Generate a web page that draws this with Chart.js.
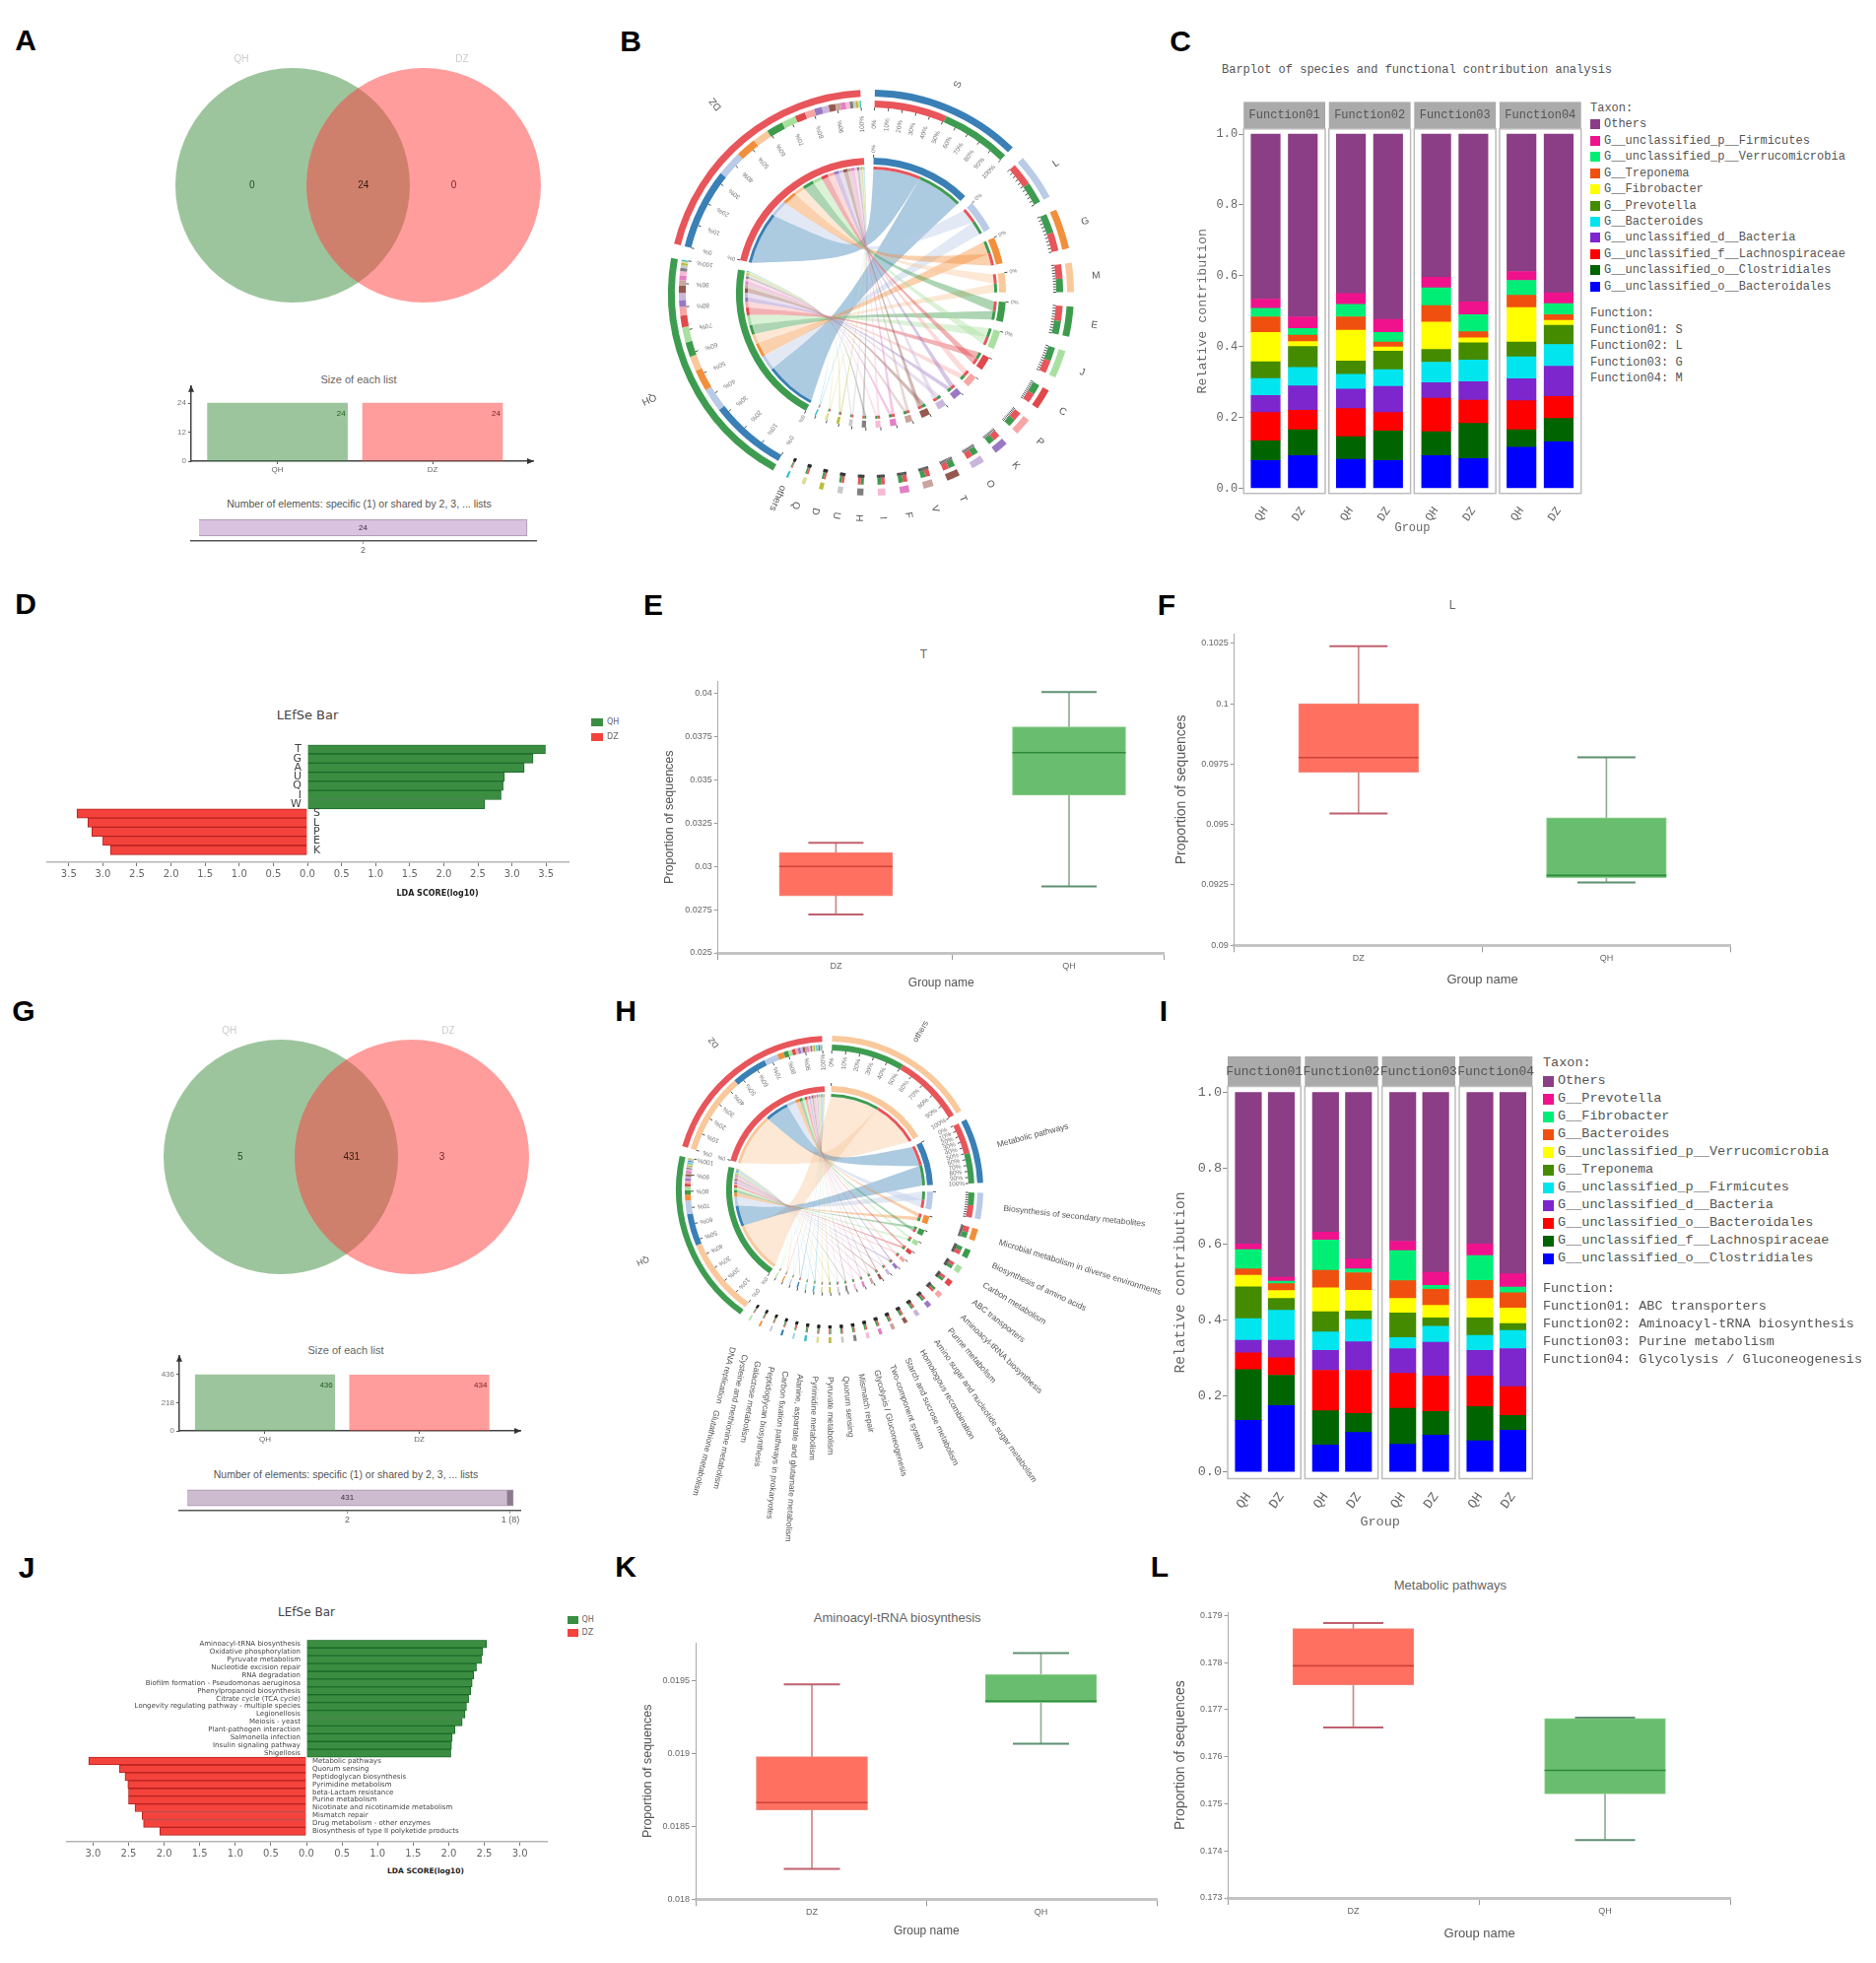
<!DOCTYPE html>
<html>
<head>
<meta charset="utf-8">
<script src="https://cdn.jsdelivr.net/npm/chart.js@4"></script>
<style>
html, body { margin: 0; background: #fff; }
body { position: relative; width: 1904px; height: 1992px; overflow: hidden; }
canvas { position: absolute; }
.t { position: absolute; white-space: nowrap; line-height: 1; }
.swatch { position: absolute; }
</style>
</head>
<body>
<script>
// ---- venn + list sizes
const groupNames = ['QH', 'DZ'];
const vennCountsA = [0, 24, 0];
const vennCountsG = [5, 431, 3];
const listSizesA = [24, 24];
const listSizesG = [436, 434];
const sizeTicksA = [0, 12, 24];
const sizeTicksG = [0, 218, 436];
const sharedA = [24];
const sharedLabelsA = ['2'];
const sharedG = [431, 8];
const sharedLabelsG = ['2', '1 (8)'];

// ---- chord B
const chordNamesB = ['S', 'L', 'G', 'M', 'E', 'J', 'C', 'P', 'K', 'O', 'T', 'V', 'F', 'I', 'H', 'U', 'D', 'Q', 'others'];
const chordSpansB = [43.2, 13.3, 11.5, 8.4, 8.6, 8, 6, 5, 4, 3.8, 3.8, 2.9, 2.7, 2.2, 1.8, 1.5, 1.2, 1, 0.6];
const chordQhShareB = [0.49, 0.48, 0.51, 0.48, 0.47, 0.52, 0.53, 0.47, 0.47, 0.51, 0.52, 0.5, 0.49, 0.5, 0.51, 0.5, 0.5, 0.5, 0.5];
const hostSpansB = [71, 73];

// ---- chord H
const chordNamesH = ['others', 'Metabolic pathways', 'Biosynthesis of secondary metabolites', 'Microbial metabolism in diverse environments',
  'Biosynthesis of amino acids', 'Carbon metabolism', 'ABC transporters', 'Aminoacyl-tRNA biosynthesis', 'Purine metabolism',
  'Amino sugar and nucleotide sugar metabolism', 'Homologous recombination', 'Starch and sucrose metabolism', 'Two-component system',
  'Glycolysis / Gluconeogenesis', 'Mismatch repair', 'Quorum sensing', 'Pyruvate metabolism', 'Pyrimidine metabolism',
  'Alanine, aspartate and glutamate metabolism', 'Carbon fixation pathways in prokaryotes', 'Peptidoglycan biosynthesis',
  'Galactose metabolism', 'Cysteine and methionine metabolism', 'DNA replication   Glutathione metabolism'];
const chordSpansH = [58.2, 24.7, 10, 4.6, 3.3, 2.7, 2.3, 2, 1.8, 1.6, 1.5, 1.4, 1.3, 1.2, 1.1, 1, 1, 0.9, 0.9, 0.8, 0.8, 0.7, 0.7, 0.6];
const chordQhShareH = [0.51, 0.49, 0.51, 0.5, 0.51, 0.5, 0.49, 0.52, 0.49, 0.5, 0.5, 0.5, 0.5, 0.5, 0.49, 0.49, 0.51, 0.49, 0.5, 0.5, 0.49, 0.5, 0.5, 0.5];
const hostSpansH = [67, 70.8];

const chordPaletteB = ['#3a80b6', '#b9cbe6', '#f28f3b', '#f9c89b', '#3c9c4b', '#a9e0a0', '#e0484c', '#f7a6a6', '#9a78c4', '#c9b6da',
  '#96594f', '#c9a59d', '#e37fc6', '#f7bad6', '#808080', '#c9c9c9', '#bcbd3a', '#dcdc96', '#36bccd'];
const chordPaletteH = ['#f9c89b', '#3a80b6', '#b9cbe6', '#f28f3b', '#3c9c4b', '#a9e0a0', '#e0484c', '#f7a6a6', '#9a78c4', '#c9b6da',
  '#96594f', '#c9a59d', '#e37fc6', '#f7bad6', '#808080', '#c9c9c9', '#bcbd3a', '#dcdc96', '#36bccd', '#9edae5', '#3a80b6', '#b9cbe6', '#f28f3b', '#a9e0a0'];

// ---- stacked bars C
const taxaC = ['Others', 'G__unclassified_p__Firmicutes', 'G__unclassified_p__Verrucomicrobia', 'G__Treponema', 'G__Fibrobacter', 'G__Prevotella',
  'G__Bacteroides', 'G__unclassified_d__Bacteria', 'G__unclassified_f__Lachnospiraceae', 'G__unclassified_o__Clostridiales', 'G__unclassified_o__Bacteroidales'];
const othersC = [0.466, 0.516, 0.45, 0.523, 0.404, 0.474, 0.388, 0.448];
const firmicutesC = [0.026, 0.033, 0.031, 0.037, 0.03, 0.036, 0.025, 0.031];
const verrucoC = [0.024, 0.019, 0.035, 0.027, 0.05, 0.048, 0.042, 0.031];
const treponemaC = [0.044, 0.018, 0.038, 0.014, 0.047, 0.017, 0.035, 0.016];
const fibrobacterC = [0.083, 0.014, 0.087, 0.012, 0.077, 0.014, 0.097, 0.014];
const prevotellaC = [0.047, 0.059, 0.037, 0.052, 0.036, 0.049, 0.042, 0.054];
const bacteroidesC = [0.048, 0.052, 0.042, 0.047, 0.058, 0.061, 0.062, 0.061];
const dBacteriaC = [0.048, 0.069, 0.055, 0.074, 0.044, 0.052, 0.062, 0.086];
const lachnoC = [0.08, 0.055, 0.079, 0.052, 0.094, 0.066, 0.082, 0.062];
const clostridialesC = [0.056, 0.073, 0.064, 0.084, 0.068, 0.099, 0.049, 0.066];
const bacteroidalesC = [0.078, 0.092, 0.082, 0.078, 0.092, 0.084, 0.116, 0.131];
const functionsC = ['Function01: S', 'Function02: L', 'Function03: G', 'Function04: M'];

// ---- stacked bars I
const taxaI = ['Others', 'G__Prevotella', 'G__Fibrobacter', 'G__Bacteroides', 'G__unclassified_p__Verrucomicrobia', 'G__Treponema',
  'G__unclassified_p__Firmicutes', 'G__unclassified_d__Bacteria', 'G__unclassified_o__Bacteroidales', 'G__unclassified_f__Lachnospiraceae', 'G__unclassified_o__Clostridiales'];
const othersI = [0.399, 0.487, 0.368, 0.439, 0.392, 0.474, 0.399, 0.478];
const prevotellaI = [0.015, 0.01, 0.021, 0.026, 0.025, 0.034, 0.031, 0.035];
const fibrobacterI = [0.051, 0.007, 0.08, 0.01, 0.079, 0.011, 0.065, 0.015];
const bacteroidesI = [0.017, 0.018, 0.046, 0.046, 0.047, 0.042, 0.048, 0.04];
const verrucoI = [0.03, 0.021, 0.063, 0.055, 0.038, 0.033, 0.051, 0.041];
const treponemaI = [0.084, 0.031, 0.053, 0.022, 0.065, 0.022, 0.046, 0.018];
const firmicutesI = [0.057, 0.079, 0.049, 0.059, 0.029, 0.042, 0.04, 0.048];
const dBacteriaI = [0.033, 0.046, 0.052, 0.075, 0.065, 0.089, 0.067, 0.1];
const bacteroidalesI = [0.044, 0.046, 0.107, 0.114, 0.092, 0.094, 0.081, 0.076];
const lachnoI = [0.134, 0.08, 0.09, 0.05, 0.095, 0.062, 0.09, 0.039];
const clostridialesI = [0.136, 0.175, 0.071, 0.104, 0.073, 0.097, 0.082, 0.11];
const functionsI = ['Function01: ABC transporters', 'Function02: Aminoacyl-tRNA biosynthesis', 'Function03: Purine metabolism', 'Function04: Glycolysis / Gluconeogenesis'];

const taxonColors = ['#8b3e85', '#f0128c', '#00ee76', '#f0500f', '#ffff00', '#458b00', '#00e5ee', '#7d26cd', '#ff0000', '#006400', '#0000ff'];
const facetNames = ['Function01', 'Function02', 'Function03', 'Function04'];
const contributionTicks = [0, 0.2, 0.4, 0.6, 0.8, 1];

// ---- LEfSe D
const lefseQhNamesD = ['T', 'G', 'A', 'U', 'Q', 'I', 'W'];
const lefseQhD = [3.49, 3.31, 3.18, 2.89, 2.87, 2.84, 2.6];
const lefseDzNamesD = ['S', 'L', 'P', 'E', 'K'];
const lefseDzD = [3.38, 3.22, 3.16, 3.0, 2.89];
const lefseTicksD = [-3.5, -3, -2.5, -2, -1.5, -1, -0.5, 0, 0.5, 1, 1.5, 2, 2.5, 3, 3.5];

// ---- LEfSe J
const lefseQhNamesJ = ['Aminoacyl-tRNA biosynthesis', 'Oxidative phosphorylation', 'Pyruvate metabolism', 'Nucleotide excision repair', 'RNA degradation',
  'Biofilm formation - Pseudomonas aeruginosa', 'Phenylpropanoid biosynthesis', 'Citrate cycle (TCA cycle)', 'Longevity regulating pathway - multiple species',
  'Legionellosis', 'Meiosis - yeast', 'Plant-pathogen interaction', 'Salmonella infection', 'Insulin signaling pathway', 'Shigellosis'];
const lefseQhJ = [2.53, 2.48, 2.46, 2.39, 2.35, 2.33, 2.31, 2.28, 2.25, 2.23, 2.19, 2.09, 2.05, 2.04, 2.03];
const lefseDzNamesJ = ['Metabolic pathways', 'Quorum sensing', 'Peptidoglycan biosynthesis', 'Pyrimidine metabolism', 'beta-Lactam resistance', 'Purine metabolism',
  'Nicotinate and nicotinamide metabolism', 'Mismatch repair', 'Drug metabolism - other enzymes', 'Biosynthesis of type II polyketide products'];
const lefseDzJ = [3.06, 2.63, 2.55, 2.51, 2.5, 2.5, 2.41, 2.31, 2.29, 2.06];
const lefseTicksJ = [-3, -2.5, -2, -1.5, -1, -0.5, 0, 0.5, 1, 1.5, 2, 2.5, 3];

// ---- box plots: low, q1, median, q3, high
const boxCategories = ['DZ', 'QH'];
const boxDzE = [0.02722, 0.0283, 0.03, 0.0308, 0.03137];
const boxQhE = [0.02885, 0.03412, 0.03658, 0.03807, 0.04008];
const ticksE = [0.025, 0.0275, 0.03, 0.0325, 0.035, 0.0375, 0.04];
const boxDzF = [0.09546, 0.09716, 0.09777, 0.1, 0.10238];
const boxQhF = [0.0926, 0.0928, 0.09289, 0.09528, 0.09778];
const ticksF = [0.09, 0.0925, 0.095, 0.0975, 0.1, 0.1025];
const boxDzK = [0.018208, 0.018613, 0.018662, 0.018978, 0.019474];
const boxQhK = [0.019067, 0.019347, 0.019358, 0.019541, 0.019688];
const ticksK = [0.018, 0.0185, 0.019, 0.0195];
const boxDzL = [0.17662, 0.17752, 0.17793, 0.17872, 0.17884];
const boxQhL = [0.17423, 0.17521, 0.17571, 0.17681, 0.17683];
const ticksL = [0.173, 0.174, 0.175, 0.176, 0.177, 0.178, 0.179];

Chart.defaults.animation = false;
Chart.defaults.responsive = false;
Chart.defaults.layout.autoPadding = false;
Chart.defaults.plugins.legend.display = false;
Chart.defaults.plugins.tooltip.enabled = false;

const SANS = '"Liberation Sans", Arial, sans-serif';
const MONO = '"Liberation Mono", monospace';
const DEJAVU = '"DejaVu Sans", sans-serif';

function addCanvas(box) {
  const c = document.createElement('canvas');
  c.width = box.r - box.l;
  c.height = box.b - box.t;
  c.style.left = box.l + 'px';
  c.style.top = box.t + 'px';
  document.body.appendChild(c);
  return c.getContext('2d');
}

function text(x, y, str, font, color, opts) {
  opts = opts || {};
  const el = document.createElement('div');
  el.className = 't';
  el.textContent = str;
  el.style.left = x + 'px';
  el.style.top = y + 'px';
  el.style.font = font;
  el.style.lineHeight = '1';
  el.style.color = color || '#555';
  el.style.transform = (opts.left ? 'translate(0,-50%)' : 'translate(-50%,-50%)') + (opts.rotate ? ' rotate(' + opts.rotate + 'deg)' : '');
  document.body.appendChild(el);
}

function swatch(l, t, w, h, color) {
  const el = document.createElement('div');
  el.className = 'swatch';
  el.style.cssText = 'left:' + l + 'px;top:' + t + 'px;width:' + w + 'px;height:' + h + 'px;background:' + color;
  document.body.appendChild(el);
}

// keeps the plot rectangle where the reference has it
function framePad(box, plot, yHidden) {
  return { autoPadding: false, padding: { top: plot.t - box.t, right: box.r - plot.r, bottom: 0, left: yHidden ? plot.l - box.l : 0 } };
}
function fixedTicks(values) {
  return function (scale) { scale.ticks = values.map(v => ({ value: v })); };
}

// ---------------- venn
function vennChart(cx, cy, counts, names) {
  const unit = 133;
  const box = { l: cx - unit, t: cy - 130, r: cx + 2 * unit, b: cy + 130 };
  const labelX = [-0.31, 0.54, 1.23];
  new Chart(addCanvas(box), {
    type: 'scatter',
    data: {
      datasets: [
        { label: names[0], order: 1, data: [{ x: 0, y: 0 }], pointRadius: 119, pointBackgroundColor: 'rgba(60,140,60,0.5)', pointBorderWidth: 0, clip: false },
        { label: names[1], order: 0, data: [{ x: 1, y: 0 }], pointRadius: 119, pointBackgroundColor: 'rgba(255,60,60,0.5)', pointBorderWidth: 0, clip: false }
      ]
    },
    options: {
      scales: { x: { display: false, min: -1, max: 2 }, y: { display: false, min: -1, max: 1 } },
      layout: { autoPadding: false, padding: 0 }
    },
    plugins: [{
      id: 'vennCounts',
      afterDatasetsDraw(chart) {
        const g = chart.ctx;
        g.save();
        g.font = '10px ' + SANS;
        g.textAlign = 'center';
        g.textBaseline = 'middle';
        counts.forEach((n, i) => {
          g.fillStyle = ['#1d4d1d', '#3a1a10', '#7a2020'][i];
          g.fillText(String(n), chart.scales.x.getPixelForValue(labelX[i]), chart.scales.y.getPixelForValue(0));
        });
        g.restore();
      }
    }]
  });
}

// ---------------- list size bars with arrow axes
function sizeChart(plot, sizes, ticks, width, centers) {
  const box = { l: plot.l - 26, t: plot.t - 4, r: plot.r + 8, b: plot.b + 16 };
  const spacing = centers[1] - centers[0];
  const yUnit = (plot.b - plot.top1) / ticks[ticks.length - 1];
  new Chart(addCanvas(box), {
    type: 'bar',
    data: {
      datasets: [{
        label: 'Size of each list',
        data: sizes.map((v, i) => ({ x: i, y: v })),
        backgroundColor: ['rgba(60,140,60,0.5)', 'rgba(255,60,60,0.5)'],
        barThickness: width
      }]
    },
    options: {
      layout: framePad(box, plot),
      scales: {
        x: {
          type: 'linear',
          offset: false,
          min: (plot.l - centers[0]) / spacing,
          max: (plot.r - centers[0]) / spacing,
          afterBuildTicks: fixedTicks([0, 1]),
          afterFit: s => { s.height = box.b - plot.b; },
          border: { color: '#444', width: 1.5 },
          grid: { offset: false, drawOnChartArea: false, tickLength: 3, tickColor: '#555' },
          ticks: { autoSkip: false, maxRotation: 0, padding: 1, color: '#666', font: { size: 8, family: SANS }, callback: (v, i) => groupNames[i] }
        },
        y: {
          min: 0,
          max: (plot.b - plot.t) / yUnit,
          afterBuildTicks: fixedTicks(ticks),
          afterFit: s => { s.width = plot.l - box.l; },
          border: { color: '#444', width: 1.5 },
          grid: { drawOnChartArea: false, tickLength: 3, tickColor: '#555' },
          ticks: { padding: 2, color: '#777', font: { size: 8, family: SANS } }
        }
      }
    },
    plugins: [{
      id: 'axisArrows',
      afterDraw(chart) {
        const g = chart.ctx, a = chart.chartArea;
        g.save();
        g.fillStyle = '#333';
        g.beginPath();
        g.moveTo(a.left, a.top - 1); g.lineTo(a.left - 3, a.top + 6); g.lineTo(a.left + 3, a.top + 6);
        g.closePath(); g.fill();
        g.beginPath();
        g.moveTo(a.right + 1, a.bottom); g.lineTo(a.right - 6, a.bottom - 3); g.lineTo(a.right - 6, a.bottom + 3);
        g.closePath(); g.fill();
        g.font = '8px ' + SANS;
        g.textAlign = 'right';
        g.textBaseline = 'middle';
        const bars = chart.getDatasetMeta(0).data;
        sizes.forEach((v, i) => {
          g.fillStyle = i ? '#7a2020' : '#1d5d1d';
          g.fillText(String(v), bars[i].x + width / 2 - 2, chart.scales.y.getPixelForValue(v) + 11);
        });
        g.restore();
      }
    }]
  });
}

function sharedChart(plot, zeroX, unit, counts, labels, colors) {
  const box = { l: plot.l - 4, t: plot.t - 2, r: plot.r + 14, b: plot.b + 18 };
  let run = 0;
  const tickValues = counts.map(v => { const mid = run + v / 2; run += v; return mid; });
  new Chart(addCanvas(box), {
    type: 'bar',
    data: {
      labels: ['shared'],
      datasets: counts.map((v, i) => ({
        label: labels[i],
        data: [v],
        backgroundColor: colors[i],
        borderColor: '#a892ad',
        borderWidth: 1,
        barThickness: plot.b - plot.t - 10
      }))
    },
    options: {
      indexAxis: 'y',
      layout: framePad(box, plot, true),
      scales: {
        x: {
          stacked: true,
          min: (plot.l - zeroX) / unit,
          max: (plot.r - zeroX) / unit,
          afterBuildTicks: fixedTicks(tickValues),
          afterFit: s => { s.height = box.b - plot.b; },
          border: { color: '#555', width: 1.5 },
          grid: { drawOnChartArea: false, tickLength: 3, tickColor: '#999' },
          ticks: { autoSkip: false, maxRotation: 0, padding: 1, color: '#666', font: { size: 9, family: SANS }, callback: (v, i) => labels[i] }
        },
        y: { stacked: true, display: false }
      }
    },
    plugins: [{
      id: 'sharedValue',
      afterDatasetsDraw(chart) {
        const g = chart.ctx;
        g.save();
        g.font = '8px ' + SANS;
        g.fillStyle = '#3d2a45';
        g.textAlign = 'center';
        g.textBaseline = 'middle';
        g.fillText(String(counts[0]), chart.scales.x.getPixelForValue(counts[0] / 2), (chart.chartArea.top + chart.chartArea.bottom) / 2);
        g.restore();
      }
    }]
  });
}

// ---------------- chord diagram: doughnut rings + ribbons taken from the ring arcs
function buildRings(spans, qhShare, hostSpans, hostColors, palette) {
  const sum = a => a.reduce((s, v) => s + v, 0);
  const n = spans.length + hostSpans.length;
  const gap = (360 - sum(spans) - sum(hostSpans)) / n;
  const clear = 'rgba(0,0,0,0)';
  const secVals = [], secCols = [], stVals = [], stCols = [], ranges = [];
  const links = spans.map(() => ({}));
  const qhTotal = sum(spans.map((s, f) => s * qhShare[f]));
  const dzTotal = sum(spans) - qhTotal;
  spans.forEach((s, f) => {
    secVals.push(s, gap);
    secCols.push(palette[f], clear);
    const parts = [['qh', s * qhShare[f], hostColors[0]], ['dz', s * (1 - qhShare[f]), hostColors[1]]];
    if (qhShare[f] <= 0.5) parts.reverse();
    const first = stVals.length;
    parts.forEach(p => {
      links[f]['f' + p[0]] = stVals.length;
      stVals.push(p[1]);
      stCols.push(p[2]);
    });
    ranges.push([first, stVals.length - 1]);
    stVals.push(gap);
    stCols.push(clear);
  });
  ['qh', 'dz'].forEach((h, hi) => {
    secVals.push(hostSpans[hi], gap);
    secCols.push(hostColors[hi], clear);
    const total = hi ? dzTotal : qhTotal;
    const first = stVals.length;
    spans.forEach((s, f) => {
      links[f]['h' + h] = stVals.length;
      stVals.push(hostSpans[hi] * s * (hi ? 1 - qhShare[f] : qhShare[f]) / total);
      stCols.push(palette[f]);
    });
    ranges.push([first, stVals.length - 1]);
    stVals.push(gap);
    stCols.push(clear);
  });
  return { secVals, secCols, stVals, stCols, links, ranges };
}

function chordChart(cfg) {
  const half = cfg.half;
  const box = { l: cfg.cx - half, t: cfg.cy - half, r: cfg.cx + half, b: cfg.cy + half };
  const palette = cfg.palette;
  const rings = buildRings(cfg.spans, cfg.share, cfg.hosts, ['#3e9c50', '#e8555a'], palette);
  const w = cfg.weights;
  const blank = weight => ({ data: [1], backgroundColor: 'rgba(0,0,0,0)', borderWidth: 0, weight });
  const ring = (vals, cols, weight) => ({ data: vals, backgroundColor: cols, borderWidth: 0, weight });
  const names = cfg.names.concat(['QH', 'DZ']);
  new Chart(addCanvas(box), {
    type: 'doughnut',
    data: {
      datasets: [
        ring(rings.secVals, rings.secCols, w[0]),
        blank(w[1]),
        ring(rings.stVals, rings.stCols, w[2]),
        blank(w[3]),
        ring(rings.secVals, rings.secCols, w[4]),
        blank(w[5]),
        ring(rings.stVals, rings.stCols, w[6])
      ]
    },
    options: {
      layout: { autoPadding: false, padding: half - cfg.outer },
      cutout: cfg.inner,
      rotation: cfg.rotation
    },
    plugins: [{
      id: 'chordRibbons',
      beforeDatasetsDraw(chart) {
        const g = chart.ctx;
        const arcs = chart.getDatasetMeta(6).data;
        const cx = arcs[0].x, cy = arcs[0].y, r = arcs[0].innerRadius;
        const at = a => [cx + r * Math.cos(a), cy + r * Math.sin(a)];
        const ribbon = (a, b, bx, by, color) => {
          const p = at(b.startAngle), q = at(a.startAngle);
          g.beginPath();
          g.arc(cx, cy, r, a.startAngle, a.endAngle);
          g.bezierCurveTo(cx + bx, cy + by, cx + bx, cy + by, p[0], p[1]);
          g.arc(cx, cy, r, b.startAngle, b.endAngle);
          g.bezierCurveTo(cx + bx, cy + by, cx + bx, cy + by, q[0], q[1]);
          g.closePath();
          g.fillStyle = color;
          g.fill();
        };
        g.save();
        g.globalAlpha = 0.42;
        rings.links.forEach((l, f) => {
          const color = palette[f];
          ribbon(arcs[l.hdz], arcs[l.fdz], cfg.bundleDz[0], cfg.bundleDz[1], color);
          ribbon(arcs[l.hqh], arcs[l.fqh], cfg.bundleQh[0], cfg.bundleQh[1], color);
        });
        g.restore();
      },
      afterDatasetsDraw(chart) {
        const g = chart.ctx;
        const st = chart.getDatasetMeta(2).data;
        const inner = chart.getDatasetMeta(4).data;
        const cx = st[0].x, cy = st[0].y;
        const tickR = st[0].innerRadius;
        const innerR = inner[0].outerRadius;
        const label = (a, r, str, font, color, align, turn) => {
          g.save();
          g.translate(cx + r * Math.cos(a), cy + r * Math.sin(a));
          g.rotate(turn === undefined ? a : turn);
          g.font = font;
          g.fillStyle = color;
          g.textAlign = align;
          g.textBaseline = 'middle';
          g.fillText(str, 0, 0);
          g.restore();
        };
        g.save();
        g.strokeStyle = '#222';
        g.lineWidth = 0.8;
        rings.ranges.forEach((rg, s) => {
          const a0 = st[rg[0]].startAngle, a1 = st[rg[1]].endAngle;
          const big = (a1 - a0) > 0.3;
          for (let i = 0; i <= 10; i++) {
            const a = a0 + (a1 - a0) * i / 10;
            g.beginPath();
            g.moveTo(cx + tickR * Math.cos(a), cy + tickR * Math.sin(a));
            g.lineTo(cx + (tickR - 3) * Math.cos(a), cy + (tickR - 3) * Math.sin(a));
            g.stroke();
            if (big) label(a, tickR - cfg.tickLabelGap, (i * 10) + '%', '6.5px ' + SANS, '#777', 'center');
          }
          // start tick of the inner ring
          const b0 = inner[s * 2].startAngle;
          g.beginPath();
          g.moveTo(cx + innerR * Math.cos(b0), cy + innerR * Math.sin(b0));
          g.lineTo(cx + (innerR + 3) * Math.cos(b0), cy + (innerR + 3) * Math.sin(b0));
          g.stroke();
          if (s < cfg.innerLabels || s >= cfg.names.length) label(b0, innerR + 9, '0%', '5.5px ' + SANS, '#777', 'center');
        });
        names.forEach((name, s) => {
          const a = (inner[s * 2].startAngle + inner[s * 2].endAngle) / 2;
          if (s >= cfg.names.length) {
            label(a, cfg.hostLabelR[s - cfg.names.length], name, cfg.nameFont, '#555', 'center');
          } else if (cfg.radialNames && s > 0) {
            // the long names sit further out and lean towards vertical on the lower left
            const r = cfg.nameR + 14 * Math.max(0, Math.sin(a));
            const turn = a > Math.PI / 2 ? Math.PI / 2 + (a - Math.PI / 2) * 0.45 : a;
            label(a, r, name, cfg.nameFont, '#555', 'left', turn);
          } else {
            label(a, s === 0 && cfg.radialNames ? cfg.firstR : cfg.nameR, name, cfg.nameFont, '#555', 'center');
          }
        });
        g.restore();
      }
    }]
  });
}

// ---------------- facetted stacked bars
function facetChart(cfg) {
  const { box, plot, series, unitMax, offs, barW, strip } = cfg;
  new Chart(addCanvas(box), {
    type: 'bar',
    data: {
      datasets: series.map((vals, k) => ({
        label: cfg.taxa[k],
        data: vals.map((v, i) => ({ x: Math.floor(i / 2) + offs[i % 2], y: v })),
        backgroundColor: taxonColors[k],
        barThickness: barW
      })).reverse()
    },
    options: {
      layout: framePad(box, plot),
      scales: {
        x: {
          type: 'linear',
          offset: false,
          stacked: true,
          min: 0,
          max: unitMax,
          afterBuildTicks: fixedTicks([0, 1, 2, 3].flatMap(f => [f + offs[0], f + offs[1]])),
          afterFit: s => { s.height = box.b - plot.b; },
          border: { display: false },
          grid: { offset: false, display: false },
          ticks: { autoSkip: false, minRotation: 55, maxRotation: 55, padding: 3, color: '#666', font: { size: cfg.tickSize, family: MONO }, callback: (v, i) => groupNames[i % 2] },
          title: { display: true, text: 'Group', color: '#666', padding: 0, font: { size: cfg.tickSize, family: MONO } }
        },
        y: {
          stacked: true,
          min: cfg.yMin,
          max: cfg.yMax,
          afterBuildTicks: fixedTicks(contributionTicks),
          afterFit: s => { s.width = plot.l - box.l; },
          border: { display: false },
          grid: { drawOnChartArea: false, tickLength: 5, tickColor: '#888' },
          ticks: { padding: 1, color: '#666', font: { size: cfg.tickSize, family: MONO }, callback: v => v.toFixed(1) },
          title: { display: true, text: 'Relative contribution', color: '#666', padding: 0, font: { size: cfg.titleSize, family: MONO } }
        }
      }
    },
    plugins: [{
      id: 'facetStrips',
      beforeDatasetsDraw(chart) {
        const g = chart.ctx, x = chart.scales.x, a = chart.chartArea;
        const top = strip - box.t;
        g.save();
        facetNames.forEach((name, f) => {
          const l = x.getPixelForValue(f);
          const r = x.getPixelForValue(f + unitMax - 3);
          g.fillStyle = '#aaaaaa';
          g.fillRect(l, top, r - l, a.top - top);
          g.strokeStyle = '#bdbdbd';
          g.lineWidth = 1.5;
          g.strokeRect(l, a.top, r - l, a.bottom - a.top);
          g.fillStyle = '#555';
          g.font = cfg.stripSize + 'px ' + MONO;
          g.textAlign = 'center';
          g.textBaseline = 'middle';
          g.fillText(name, (l + r) / 2, (top + a.top) / 2);
        });
        g.restore();
      }
    }]
  });
}

function facetLegend(cfg) {
  const font = cfg.size + 'px ' + MONO;
  text(cfg.x, cfg.y0, 'Taxon:', font, '#555', { left: true });
  cfg.taxa.forEach((name, i) => {
    const y = cfg.y0 + cfg.step * (i + 1);
    swatch(cfg.x, y - cfg.sw / 2, cfg.sw, cfg.sw, taxonColors[i]);
    text(cfg.x + cfg.sw + 4, y, name, font, '#555', { left: true });
  });
  text(cfg.x, cfg.fy, 'Function:', font, '#555', { left: true });
  cfg.functions.forEach((name, i) => text(cfg.x, cfg.fy + cfg.step * (i + 1), name, font, '#555', { left: true }));
}

// ---------------- LEfSe bars
function lefseChart(cfg) {
  const { box, plot, zero, unit, step, qh, dz } = cfg;
  new Chart(addCanvas(box), {
    type: 'bar',
    data: {
      datasets: [
        { label: 'QH', data: qh.map((v, i) => ({ y: i, x: v })), backgroundColor: '#3b8d42', borderColor: '#1c6a28', borderWidth: 1, barThickness: step, grouped: false },
        { label: 'DZ', data: dz.map((v, i) => ({ y: i + qh.length, x: -v })), backgroundColor: '#f4433c', borderColor: '#b5201c', borderWidth: 1, barThickness: step, grouped: false }
      ]
    },
    options: {
      indexAxis: 'y',
      layout: framePad(box, plot, true),
      scales: {
        x: {
          type: 'linear',
          min: (plot.l - zero) / unit,
          max: (plot.r - zero) / unit,
          afterBuildTicks: fixedTicks(cfg.ticks),
          afterFit: s => { s.height = box.b - plot.b; },
          border: { color: '#b5b5b5', width: 1.5 },
          grid: { drawOnChartArea: false, tickLength: 4, tickColor: '#777' },
          ticks: { autoSkip: false, maxRotation: 0, padding: 2, color: '#666', font: { size: 10, family: DEJAVU }, callback: v => Math.abs(v).toFixed(1) }
        },
        y: { type: 'linear', offset: false, grid: { offset: false }, display: false, reverse: true, min: -0.5, max: (plot.b - plot.t) / step - 0.5 }
      }
    },
    plugins: [{
      id: 'lefseNames',
      afterDatasetsDraw(chart) {
        const g = chart.ctx, x0 = chart.scales.x.getPixelForValue(0), y = chart.scales.y;
        g.save();
        g.font = cfg.nameFont;
        g.fillStyle = '#444';
        g.textBaseline = 'middle';
        g.textAlign = 'right';
        cfg.qhNames.forEach((n, i) => g.fillText(n, x0 - 6, y.getPixelForValue(i)));
        g.textAlign = 'left';
        cfg.dzNames.forEach((n, i) => g.fillText(n, x0 + 6, y.getPixelForValue(i + qh.length)));
        g.restore();
      }
    }]
  });
  swatch(cfg.legend.x, cfg.legend.y[0] - 4, cfg.legend.w, 8, '#3b8d42');
  swatch(cfg.legend.x, cfg.legend.y[1] - 4, cfg.legend.w, 8, '#f4433c');
  text(cfg.legend.x + cfg.legend.w + 4, cfg.legend.y[0], 'QH', '8px ' + DEJAVU, '#666', { left: true });
  text(cfg.legend.x + cfg.legend.w + 4, cfg.legend.y[1], 'DZ', '8px ' + DEJAVU, '#666', { left: true });
}

// ---------------- box plot from floating bars and line-style points
function boxChart(cfg) {
  const { box, plot, zeroX, spacing, dzStats, qhStats } = cfg;
  const stats = [dzStats, qhStats];
  const pick = k => stats.map((s, i) => ({ x: i, y: s[k] }));
  const pts = (data, radius, colors, width, order) => ({
    type: 'line', showLine: false, data, order,
    pointStyle: 'line', pointRadius: radius, pointBorderColor: colors, pointBorderWidth: width, pointBackgroundColor: colors
  });
  const xMin = (plot.l - zeroX) / spacing;
  const xMax = (plot.r - zeroX) / spacing;
  new Chart(addCanvas(box), {
    type: 'bar',
    data: {
      datasets: [
        pts(pick(2), cfg.boxW / 2, ['#cf4238', '#2f8a3c'], 1.6, 0),
        pts(pick(0), cfg.capW / 2, ['#c0606e', '#5f9072'], 2, 1),
        pts(pick(4), cfg.capW / 2, ['#c0606e', '#5f9072'], 2, 1),
        {
          label: 'Interquartile range', order: 2,
          data: stats.map((s, i) => ({ x: i, y: [s[1], s[3]] })),
          backgroundColor: ['#ff7061', '#69bd6e'], borderColor: ['#f08a7c', '#8fd08f'], borderWidth: 1,
          barThickness: cfg.boxW, grouped: false, borderSkipped: false
        },
        {
          label: 'Range', order: 3,
          data: stats.map((s, i) => ({ x: i, y: [s[0], s[4]] })),
          backgroundColor: ['#c98a88', '#8fae95'],
          barThickness: 1, grouped: false
        }
      ]
    },
    options: {
      layout: framePad(box, plot),
      scales: {
        x: {
          type: 'linear',
          offset: false,
          min: xMin,
          max: xMax,
          afterBuildTicks: fixedTicks([xMin, 0, 0.5, 1, xMax]),
          afterFit: s => { s.height = box.b - plot.b; },
          border: { color: '#c4c4c4', width: 3 },
          grid: { offset: false, drawOnChartArea: false, tickLength: 7, tickColor: c => (c.index === 1 || c.index === 3) ? 'rgba(0,0,0,0)' : '#999' },
          ticks: { autoSkip: false, maxRotation: 0, padding: 1, color: '#666', font: { size: 9, family: SANS }, callback: (v, i) => i === 1 ? boxCategories[0] : i === 3 ? boxCategories[1] : '' },
          title: { display: true, text: 'Group name', color: '#555', padding: 0, font: { size: cfg.xTitleSize, family: SANS } }
        },
        y: {
          min: cfg.ticks[0],
          max: cfg.yMax,
          afterBuildTicks: fixedTicks(cfg.ticks),
          afterFit: s => { s.width = plot.l - box.l; },
          border: { color: '#aaa', width: 1 },
          grid: { drawOnChartArea: false, tickLength: 4, tickColor: '#999' },
          ticks: { autoSkip: false, padding: 2, color: '#666', font: { size: 9, family: SANS }, callback: v => String(v) },
          title: { display: true, text: 'Proportion of sequences', color: '#555', padding: 0, font: { size: cfg.yTitleSize, family: SANS } }
        }
      }
    }
  });
}

// ---------------- panels
const letters = [['A', 26, 41], ['B', 640, 42], ['C', 1198, 42], ['D', 26, 613], ['E', 663, 614], ['F', 1184, 614],
  ['G', 24, 1026], ['H', 635, 1026], ['I', 1181, 1026], ['J', 27, 1591], ['K', 635, 1590], ['L', 1177, 1590]];
letters.forEach(l => text(l[1], l[2], l[0], 'bold 30px ' + SANS, '#000'));

// A
vennChart(297, 188, vennCountsA, groupNames);
text(245, 60, 'QH', '10px ' + SANS, '#ccc');
text(469, 60, 'DZ', '10px ' + SANS, '#ccc');
text(364, 385, 'Size of each list', '11px ' + SANS, '#666');
sizeChart({ l: 194, r: 541, t: 389, b: 468, top1: 407 }, listSizesA, sizeTicksA, 142, [281.6, 439]);
text(364.5, 511, 'Number of elements: specific (1) or shared by 2, 3, ... lists', '10.5px ' + SANS, '#555');
sharedChart({ l: 194, r: 544, t: 522, b: 549 }, 202, 13.875, sharedA, sharedLabelsA, ['#d9c3e0']);

// G
vennChart(284.5, 1173.5, vennCountsG, groupNames);
text(232.7, 1045.5, 'QH', '10px ' + SANS, '#ccc');
text(455, 1045.5, 'DZ', '10px ' + SANS, '#ccc');
text(351, 1370, 'Size of each list', '11px ' + SANS, '#666');
sizeChart({ l: 182, r: 528, t: 1373, b: 1452.4, top1: 1393 }, listSizesG, sizeTicksG, 141.5, [269, 425.6]);
text(351, 1496, 'Number of elements: specific (1) or shared by 2, 3, ... lists', '10.5px ' + SANS, '#555');
sharedChart({ l: 182, r: 528, t: 1507, b: 1533.4 }, 190, 0.754, sharedG, sharedLabelsG, ['#cdbbd0', '#8b7b8e']);

// B
chordChart({
  cx: 884, cy: 297, half: 270, outer: 206, inner: 125, rotation: 1.1,
  weights: [7, 4, 7, 51, 7, 2, 3], palette: chordPaletteB,
  names: chordNamesB, spans: chordSpansB, share: chordQhShareB, hosts: hostSpansB,
  bundleDz: [-2, -34], bundleQh: [-32, 23], tickLabelGap: 17,
  nameR: 229, nameFont: '10px ' + SANS, hostLabelR: [250, 248], innerLabels: 6
});

// H
chordChart({
  cx: 842, cy: 1207, half: 380, outer: 156, inner: 94, rotation: 0.9,
  weights: [6, 3, 6, 36, 6, 2, 3], palette: chordPaletteH,
  names: chordNamesH, spans: chordSpansH, share: chordQhShareH, hosts: hostSpansH,
  bundleDz: [-8, -25], bundleQh: [-33, 20], tickLabelGap: 12,
  nameR: 176, firstR: 185, radialNames: true, nameFont: '8.5px ' + SANS, hostLabelR: [203, 190], innerLabels: 0
});

// C
facetChart({
  box: { l: 1212, t: 100, r: 1610, b: 543 }, plot: { l: 1262.2, r: 1604.7, t: 130.8, b: 500.7 }, strip: 103.4,
  series: [othersC, firmicutesC, verrucoC, treponemaC, fibrobacterC, prevotellaC, bacteroidesC, dBacteriaC, lachnoC, clostridialesC, bacteroidalesC],
  taxa: taxaC, unitMax: 3.957, offs: [0.258, 0.694], barW: 29.5, yMin: -0.0145, yMax: 1.0145,
  tickSize: 12, titleSize: 13.3, stripSize: 12
});
text(1240, 71, 'Barplot of species and functional contribution analysis', '12px ' + MONO, '#555', { left: true });
facetLegend({ x: 1614, y0: 110, step: 16.43, sw: 10, size: 12, taxa: taxaC, functions: functionsC, fy: 318.4 });

// I
facetChart({
  box: { l: 1189, t: 1068, r: 1558, b: 1553 }, plot: { l: 1246, r: 1555.3, t: 1102.5, b: 1500.5 }, strip: 1072,
  series: [othersI, prevotellaI, fibrobacterI, bacteroidesI, verrucoI, treponemaI, firmicutesI, dBacteriaI, bacteroidalesI, lachnoI, clostridialesI],
  taxa: taxaI, unitMax: 3.948, offs: [0.268, 0.695], barW: 26.5, yMin: -0.0177, yMax: 1.0158,
  tickSize: 13.5, titleSize: 14.6, stripSize: 13
});
facetLegend({ x: 1566, y0: 1079, step: 18, sw: 11, size: 13.5, taxa: taxaI, functions: functionsI, fy: 1308 });

// D
lefseChart({
  box: { l: 40, t: 750, r: 590, b: 897 }, plot: { l: 48, r: 577, t: 755.7, b: 875 }, zero: 312, unit: 69.2, step: 9.3,
  qh: lefseQhD, dz: lefseDzD, qhNames: lefseQhNamesD, dzNames: lefseDzNamesD, ticks: lefseTicksD, nameFont: '11px ' + DEJAVU,
  legend: { x: 600, w: 12, y: [733, 748] }
});
text(312, 725, 'LEfSe Bar', '13px ' + DEJAVU, '#444');
text(444, 907, 'LDA SCORE(log10)', 'bold 8px ' + DEJAVU, '#222');

// J
lefseChart({
  box: { l: 60, t: 1660, r: 565, b: 1892 }, plot: { l: 67.3, r: 555, t: 1664.3, b: 1869 }, zero: 311, unit: 72.2, step: 7.92,
  qh: lefseQhJ, dz: lefseDzJ, qhNames: lefseQhNamesJ, dzNames: lefseDzNamesJ, ticks: lefseTicksJ, nameFont: '7px ' + DEJAVU,
  legend: { x: 575.5, w: 11, y: [1643.7, 1657.3] }
});
text(311, 1635.7, 'LEfSe Bar', '12px ' + DEJAVU, '#444');
text(432, 1899, 'LDA SCORE(log10)', 'bold 7.5px ' + DEJAVU, '#222');

// E
boxChart({
  box: { l: 672, t: 684, r: 1190, b: 1005 }, plot: { l: 728.7, r: 1181.7, t: 688.3, b: 967 }, zeroX: 848.4, spacing: 236.6,
  dzStats: boxDzE, qhStats: boxQhE, ticks: ticksE, yMax: 0.0407, boxW: 115, capW: 56, xTitleSize: 12, yTitleSize: 12.5
});
text(937.5, 664, 'T', '12px ' + SANS, '#666');

// F
boxChart({
  box: { l: 1191, t: 636, r: 1764, b: 1002 }, plot: { l: 1252.7, r: 1756.5, t: 640, b: 959.3 }, zeroX: 1378.8, spacing: 251.6,
  dzStats: boxDzF, qhStats: boxQhF, ticks: ticksF, yMax: 0.10288, boxW: 121.7, capW: 59, xTitleSize: 13, yTitleSize: 14
});
text(1474, 614, 'L', '12px ' + SANS, '#666');

// K
boxChart({
  box: { l: 650, t: 1660, r: 1182, b: 1967 }, plot: { l: 706, r: 1174.5, t: 1664.3, b: 1927.3 }, zeroX: 824, spacing: 232.5,
  dzStats: boxDzK, qhStats: boxQhK, ticks: ticksK, yMax: 0.019756, boxW: 113, capW: 57, xTitleSize: 12, yTitleSize: 12.5
});
text(910.7, 1641, 'Aminoacyl-tRNA biosynthesis', '13px ' + SANS, '#666');

// L
boxChart({
  box: { l: 1190, t: 1629, r: 1764, b: 1970 }, plot: { l: 1246.5, r: 1756.8, t: 1633, b: 1926 }, zeroX: 1373.5, spacing: 255.5,
  dzStats: boxDzL, qhStats: boxQhL, ticks: ticksL, yMax: 0.17906, boxW: 122.8, capW: 61, xTitleSize: 13, yTitleSize: 14
});
text(1471.8, 1607.7, 'Metabolic pathways', '13px ' + SANS, '#666');
</script>
</body>
</html>
